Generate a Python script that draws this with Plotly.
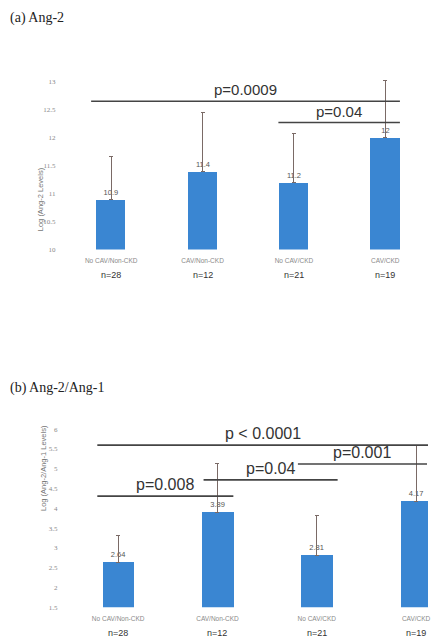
import plotly.graph_objects as go

# ---------------- data ----------------
categories_a = ["No CAV/Non-CKD", "CAV/Non-CKD", "No CAV/CKD", "CAV/CKD"]
n_a = ["n=28", "n=12", "n=21", "n=19"]
values_a = [10.9, 11.4, 11.2, 12.0]
labels_a = ["10.9", "11.4", "11.2", "12"]
err_a = [0.76, 1.05, 0.87, 1.02]
yticks_a = [10, 10.5, 11, 11.5, 12, 12.5, 13]

categories_b = ["No CAV/Non-CKD", "CAV/Non-CKD", "No CAV/CKD", "CAV/CKD"]
n_b = ["n=28", "n=12", "n=21", "n=19"]
values_b = [2.64, 3.89, 2.81, 4.17]
labels_b = ["2.64", "3.89", "2.81", "4.17"]
err_b = [0.67, 1.25, 1.0, 1.43]
yticks_b = [1.5, 2, 2.5, 3, 3.5, 4, 4.5, 5, 5.5, 6]

# brackets: (x start, x end, y level, label)
brackets_a = [(-0.22, 3.16, 12.65, "p=0.0009"), (1.83, 3.16, 12.27, "p=0.04")]
brackets_b = [(-0.21, 3.13, 5.6, "p < 0.0001"), (1.81, 3.11, 5.12, "p=0.001"),
              (0.86, 2.21, 4.72, "p=0.04"), (-0.21, 1.16, 4.31, "p=0.008")]

BLUE = "#3a86d2"
ERR = "#7a6a66"
W, H = 431, 641

fig = go.Figure()

fig.add_trace(go.Bar(
    x=list(range(len(values_a))), y=values_a, base=0, width=0.32,
    marker=dict(color=BLUE, line=dict(width=0)),
    text=labels_a, textposition="outside", cliponaxis=False,
    textfont=dict(size=7.5, color="#555", family="Liberation Sans"),
    error_y=dict(type="data", symmetric=False, array=err_a, arrayminus=[0] * 4,
                 color=ERR, thickness=1, width=2),
    xaxis="x", yaxis="y", showlegend=False))

fig.add_trace(go.Bar(
    x=list(range(len(values_b))), y=values_b, base=0, width=0.32,
    marker=dict(color=BLUE, line=dict(width=0)),
    text=labels_b, textposition="outside", cliponaxis=False,
    textfont=dict(size=7.5, color="#555", family="Liberation Sans"),
    error_y=dict(type="data", symmetric=False, array=err_b, arrayminus=[0] * 4,
                 color=ERR, thickness=1, width=2),
    xaxis="x2", yaxis="y2", showlegend=False))

shapes = []
annotations = []
for (x0, x1, y, lab), xr, yr, fs in [(b, "x", "y", 15) for b in brackets_a] + \
        [(b, "x2", "y2", 16) for b in brackets_b]:
    shapes.append(dict(type="line", xref=xr, yref=yr, x0=x0, x1=x1, y0=y, y1=y,
                       line=dict(color="#444", width=1.6)))
    annotations.append(dict(xref=xr, yref=yr, x=(x0 + x1) / 2, y=y, text=lab,
                            showarrow=False, yanchor="bottom", yshift=1,
                            font=dict(size=fs, color="#333", family="Liberation Sans")))

# sample sizes under category labels
for ns, xr, yr in [(n_a, "x", "y domain"), (n_b, "x2", "y2 domain")]:
    for i, n in enumerate(ns):
        annotations.append(dict(xref=xr, yref=yr, x=i, y=0, yshift=-26, text=n,
                                showarrow=False, yanchor="middle",
                                font=dict(size=9, color="#333", family="Liberation Sans")))

# panel titles
annotations.append(dict(xref="paper", yref="paper", x=8 / W, y=1 - 18 / H, text="(a) Ang-2",
                        showarrow=False, xanchor="left", yanchor="middle",
                        font=dict(size=14, color="#222", family="Liberation Serif")))
annotations.append(dict(xref="paper", yref="paper", x=8 / W, y=1 - 390 / H, text="(b) Ang-2/Ang-1",
                        showarrow=False, xanchor="left", yanchor="middle",
                        font=dict(size=14, color="#222", family="Liberation Serif")))
# y-axis titles
annotations.append(dict(xref="paper", yref="paper", x=35 / W, y=1 - 166 / H,
                        text="Log (Ang-2 Levels)", textangle=-90, showarrow=False,
                        font=dict(size=7.5, color="#777", family="Liberation Sans")))
annotations.append(dict(xref="paper", yref="paper", x=38 / W, y=1 - 516 / H,
                        text="Log (Ang-2/Ang-1 Levels)", textangle=-90, showarrow=False,
                        font=dict(size=7.5, color="#777", family="Liberation Sans")))

axis_common = dict(showgrid=False, zeroline=False, showline=False, ticks="")
xtick = dict(family="Liberation Sans", size=6.5, color="#8a8a8a")
ytick = dict(family="Liberation Serif", size=7, color="#888888")

fig.update_layout(
    width=W, height=H, margin=dict(l=0, r=0, t=0, b=0),
    paper_bgcolor="white", plot_bgcolor="white",
    shapes=shapes, annotations=annotations, bargap=0,
    xaxis=dict(domain=[56.8 / W, 424.8 / W], range=[-0.6, 3.4], anchor="y",
               tickvals=list(range(4)), ticktext=categories_a, ticklabelstandoff=6,
               ticklabeloverflow="allow", tickfont=xtick, **axis_common),
    yaxis=dict(domain=[1 - 251 / H, 1 - 71 / H], range=[10, 13.2], anchor="x",
               tickvals=yticks_a, ticktext=[f"{v:g}" for v in yticks_a],
               tickfont=ytick, **axis_common),
    xaxis2=dict(domain=[59 / W, 1.0], range=[-0.6, 3.12], anchor="y2",
                tickvals=list(range(4)), ticktext=categories_b, ticklabelstandoff=6,
                ticklabeloverflow="allow", tickfont=xtick, **axis_common),
    yaxis2=dict(domain=[1 - 611 / H, 1 - 426 / H], range=[1.5, 6.15], anchor="x2",
                tickvals=yticks_b, ticktext=[f"{v:g}" for v in yticks_b],
                tickfont=ytick, **axis_common),
)

fig.write_html("out.html", config={"displayModeBar": False},
               post_script="document.body.style.margin='0';")
